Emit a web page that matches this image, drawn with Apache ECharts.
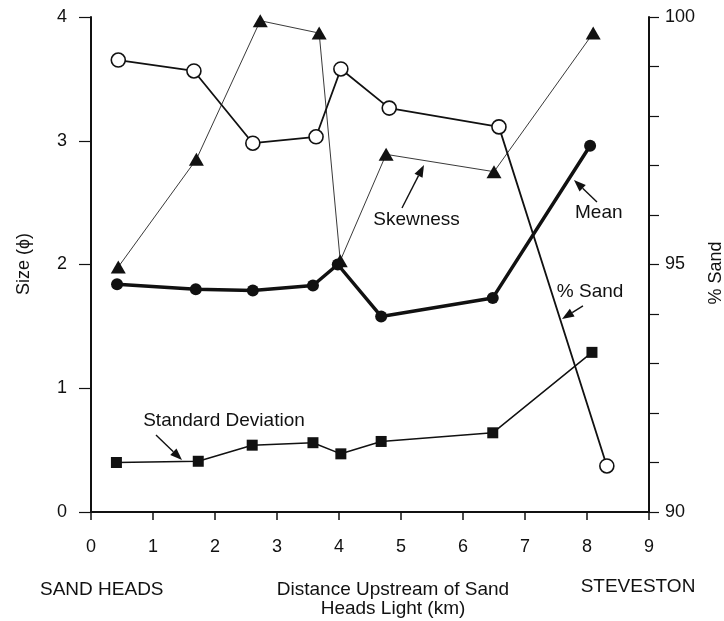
<!DOCTYPE html>
<html>
<head>
<meta charset="utf-8">
<script src="https://cdn.jsdelivr.net/npm/echarts@6/dist/echarts.min.js"></script>
<style>
html,body{margin:0;padding:0;background:#fff;}
#c{width:724px;height:621px;}
</style>
</head>
<body>
<div id="c"></div>
<script>
// ---- data ----
var xTicks = [0, 1, 2, 3, 4, 5, 6, 7, 8, 9];
var sizeTicks = [0, 1, 2, 3, 4];
var sandTickLabels = [90, 95, 100];

var xSand = [0.44, 1.66, 2.61, 3.63, 4.03, 4.81, 6.58, 8.32];
var pctSand = [99.13, 98.91, 97.45, 97.58, 98.95, 98.16, 97.78, 90.93];

var xSkew = [0.44, 1.70, 2.73, 3.68, 4.02, 4.76, 6.50, 8.10];
var skewness = [1.98, 2.85, 3.97, 3.87, 2.03, 2.89, 2.75, 3.87];

var xMean = [0.42, 1.69, 2.61, 3.58, 3.98, 4.68, 6.48, 8.05];
var meanSize = [1.84, 1.80, 1.79, 1.83, 2.00, 1.58, 1.73, 2.96];

var xSd = [0.41, 1.73, 2.60, 3.58, 4.03, 4.68, 6.48, 8.08];
var stdDev = [0.40, 0.41, 0.54, 0.56, 0.47, 0.57, 0.64, 1.29];

// annotation labels and arrows, in data coordinates of the left (Size) axis
var annoTexts = [
  {text: 'Skewness', at: [5.25, 2.36]},
  {text: 'Mean', at: [8.19, 2.42]},
  {text: '% Sand', at: [8.05, 1.78]},
  {text: 'Standard Deviation', at: [2.145, 0.735]}
];
var annoArrows = [
  {from: [5.016, 2.457], to: [5.371, 2.804]},
  {from: [8.161, 2.505], to: [7.790, 2.683]},
  {from: [7.935, 1.665], to: [7.597, 1.560]},
  {from: [1.048, 0.622], to: [1.468, 0.420]}
];

function pairs(xs, ys) { return xs.map(function (x, i) { return [x, ys[i]]; }); }

var FONT = 'Liberation Sans';
var TXT = 19;
var chart = echarts.init(document.getElementById('c'), null, {renderer: 'canvas'});

var option = {
  backgroundColor: '#ffffff',
  animation: false,
  textStyle: {fontFamily: FONT, color: '#111'},
  grid: {left: 91, right: 75, top: 17, bottom: 109, containLabel: false, outerBoundsMode: 'none'},
  xAxis: {
    type: 'value', min: 0, max: 9, interval: 1,
    axisLine: {show: true, onZero: false, lineStyle: {color: '#111', width: 2}},
    axisTick: {show: true, inside: false, length: 8, lineStyle: {color: '#111', width: 1.5}},
    axisLabel: {show: true, margin: 26, fontSize: 18, color: '#111', fontFamily: FONT,
      formatter: function (v) { return xTicks.indexOf(v) >= 0 ? String(v) : ''; }},
    splitLine: {show: false}
  },
  yAxis: [
    {
      type: 'value', min: 0, max: 4, interval: 1, position: 'left',
      axisLine: {show: true, onZero: false, lineStyle: {color: '#111', width: 2}},
      axisTick: {show: true, inside: false, length: 12, lineStyle: {color: '#111', width: 1.2}},
      axisLabel: {show: true, margin: 24, fontSize: 18, color: '#111', fontFamily: FONT,
        formatter: function (v) { return sizeTicks.indexOf(v) >= 0 ? String(v) : ''; }},
      splitLine: {show: false}
    },
    {
      type: 'value', min: 90, max: 100, interval: 1, position: 'right',
      axisLine: {show: true, onZero: false, lineStyle: {color: '#111', width: 2}},
      axisTick: {show: true, inside: false, length: 10, lineStyle: {color: '#111', width: 1.2}},
      axisLabel: {show: true, margin: 16, fontSize: 18, color: '#111', fontFamily: FONT,
        formatter: function (v) { return sandTickLabels.indexOf(v) >= 0 ? String(v) : ''; }},
      splitLine: {show: false}
    }
  ],
  series: [
    {
      name: 'Skewness', type: 'line', yAxisIndex: 0, z: 2,
      data: pairs(xSkew, skewness),
      symbol: 'triangle', symbolSize: [15, 13],
      itemStyle: {color: '#111', borderWidth: 0},
      lineStyle: {color: '#222', width: 0.9}
    },
    {
      name: 'Mean', type: 'line', yAxisIndex: 0, z: 3,
      data: pairs(xMean, meanSize),
      symbol: 'circle', symbolSize: 12,
      itemStyle: {color: '#111', borderWidth: 0},
      lineStyle: {color: '#111', width: 3.5}
    },
    {
      name: 'Standard Deviation', type: 'line', yAxisIndex: 0, z: 3,
      data: pairs(xSd, stdDev),
      symbol: 'rect', symbolSize: 11,
      itemStyle: {color: '#111', borderWidth: 0},
      lineStyle: {color: '#111', width: 1.5}
    },
    {
      name: '% Sand', type: 'line', yAxisIndex: 1, z: 4,
      data: pairs(xSand, pctSand),
      symbol: 'circle', symbolSize: 14,
      itemStyle: {color: '#ffffff', borderColor: '#111', borderWidth: 1.6},
      lineStyle: {color: '#111', width: 1.8}
    }
  ]
};
chart.setOption(option);

// ---- annotations and outer labels ----
function px(p) { return chart.convertToPixel({xAxisIndex: 0, yAxisIndex: 0}, p); }
var g = [];
annoTexts.forEach(function (a) {
  var p = px(a.at);
  g.push({type: 'text', x: p[0], y: p[1], z: 10,
    style: {text: a.text, fontSize: TXT, fontFamily: FONT, fill: '#111', align: 'center', verticalAlign: 'middle'}});
});
annoArrows.forEach(function (a) {
  var p0 = px(a.from), p1 = px(a.to);
  var dx = p1[0] - p0[0], dy = p1[1] - p0[1];
  var len = Math.sqrt(dx * dx + dy * dy);
  var ux = dx / len, uy = dy / len;
  var hl = 12, hw = 4.5;
  var bx = p1[0] - ux * hl, by = p1[1] - uy * hl;
  g.push({type: 'line', z: 10, shape: {x1: p0[0], y1: p0[1], x2: bx, y2: by},
    style: {stroke: '#111', lineWidth: 1.4}});
  g.push({type: 'polygon', z: 10, shape: {points: [
      [p1[0], p1[1]], [bx - uy * hw, by + ux * hw], [bx + uy * hw, by - ux * hw]]},
    style: {fill: '#111'}});
});
g.push({type: 'text', x: 24, y: 264, rotation: Math.PI / 2, z: 10,
  style: {text: 'Size (\u03D5)', fontSize: 18, fontFamily: FONT, fill: '#111', align: 'center', verticalAlign: 'middle'}});
g.push({type: 'text', x: 716, y: 273, rotation: Math.PI / 2, z: 10,
  style: {text: '% Sand', fontSize: 18, fontFamily: FONT, fill: '#111', align: 'center', verticalAlign: 'middle'}});
g.push({type: 'text', x: 40, y: 590, z: 10,
  style: {text: 'SAND HEADS', fontSize: TXT, fontFamily: FONT, fill: '#111', align: 'left', verticalAlign: 'middle'}});
g.push({type: 'text', x: 393, y: 590, z: 10,
  style: {text: 'Distance Upstream of Sand', fontSize: TXT, fontFamily: FONT, fill: '#111', align: 'center', verticalAlign: 'middle'}});
g.push({type: 'text', x: 393, y: 609, z: 10,
  style: {text: 'Heads Light (km)', fontSize: TXT, fontFamily: FONT, fill: '#111', align: 'center', verticalAlign: 'middle'}});
g.push({type: 'text', x: 638, y: 587, z: 10,
  style: {text: 'STEVESTON', fontSize: TXT, fontFamily: FONT, fill: '#111', align: 'center', verticalAlign: 'middle'}});
chart.setOption({graphic: g});
</script>
</body>
</html>
